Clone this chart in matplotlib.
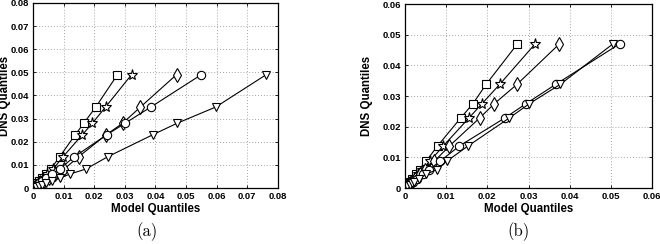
import matplotlib
matplotlib.use('Agg')
import matplotlib.pyplot as plt
import numpy as np

# (a) quantile data
ya = [0, 0.0005, 0.001, 0.0015, 0.002, 0.003, 0.0042, 0.006, 0.0082, 0.0135, 0.023, 0.028, 0.035, 0.049]
xa_square = [0, 0.00035, 0.0007, 0.001, 0.0014, 0.0021, 0.0029, 0.0041, 0.0058, 0.0087, 0.0138, 0.0166, 0.0205, 0.0276]
xa_star = [0, 0.0004, 0.0008, 0.0012, 0.0016, 0.0024, 0.0033, 0.0047, 0.0066, 0.0098, 0.0161, 0.0194, 0.0237, 0.0322]
xa_diamond = [0, 0.0006, 0.0012, 0.0018, 0.0025, 0.0037, 0.0051, 0.0073, 0.0102, 0.0149, 0.0239, 0.0293, 0.0351, 0.0469]
xa_circle = [0, 0.0005, 0.001, 0.0016, 0.0021, 0.0031, 0.0044, 0.0063, 0.0087, 0.0135, 0.0241, 0.0301, 0.0385, 0.0550]
xa_tri = [0, 0.001, 0.0021, 0.0031, 0.0042, 0.0062, 0.0087, 0.012, 0.0173, 0.0244, 0.0391, 0.0471, 0.0597, 0.0762]

# (b) quantile data
yb = [0, 0.0005, 0.001, 0.0015, 0.002, 0.003, 0.0045, 0.006, 0.0087, 0.0137, 0.0228, 0.0275, 0.0338, 0.047]
xb_square = [0, 0.0003, 0.0006, 0.0009, 0.0012, 0.0018, 0.0027, 0.0036, 0.0051, 0.0079, 0.0135, 0.0165, 0.0197, 0.0273]
xb_star = [0, 0.00035, 0.0007, 0.001, 0.0014, 0.0021, 0.0031, 0.0042, 0.006, 0.0093, 0.0155, 0.0187, 0.0230, 0.0316]
xb_diamond = [0, 0.0004, 0.0008, 0.0012, 0.0016, 0.0025, 0.0037, 0.0049, 0.0071, 0.0108, 0.0181, 0.0217, 0.0272, 0.0375]
xb_circle = [0, 0.0005, 0.001, 0.0015, 0.002, 0.0029, 0.0044, 0.0059, 0.0085, 0.0132, 0.0242, 0.0294, 0.0366, 0.0521]
xb_tri = [0, 0.0006, 0.0012, 0.0017, 0.0023, 0.0035, 0.0052, 0.0077, 0.0101, 0.0153, 0.0253, 0.0302, 0.0377, 0.0505]

ticks_a = [0, 0.01, 0.02, 0.03, 0.04, 0.05, 0.06, 0.07, 0.08]
ticks_b = [0, 0.01, 0.02, 0.03, 0.04, 0.05, 0.06]
tick_labels_a = ['0', '0.01', '0.02', '0.03', '0.04', '0.05', '0.06', '0.07', '0.08']
tick_labels_b = ['0', '0.01', '0.02', '0.03', '0.04', '0.05', '0.06']

markers = ['s', '*', 'd', 'o', 'v']
msizes = [5.5, 8, 7, 6, 6]

fig = plt.figure(figsize=(6.6, 2.44), dpi=100)
ax1 = fig.add_axes([0.050, 0.2295, 0.371, 0.7585])
ax2 = fig.add_axes([0.6136, 0.2295, 0.3744, 0.754])


def style(ax, ticks, labels, lim, ya_, xs):
    for x, m, ms in zip(xs, markers, msizes):
        ax.plot(x, ya_, color='k', lw=0.8, marker=m, ms=ms,
                mfc='white', mec='k', mew=0.8)
    ax.set_xlim(0, lim)
    ax.set_ylim(0, lim)
    ax.set_xticks(ticks)
    ax.set_yticks(ticks)
    ax.set_xticklabels(labels, fontsize=6.8, fontweight='bold', family='Liberation Sans')
    ax.set_yticklabels(labels, fontsize=6.8, fontweight='bold', family='Liberation Sans')
    ax.tick_params(direction='in', length=2.5, width=0.6, pad=3, top=True, right=True)
    ax.grid(True, ls=(0, (1, 2.5)), color='#888888', lw=0.6)
    for s in ax.spines.values():
        s.set_linewidth(0.9)
    ax.set_xlabel('Model Quantiles', fontsize=8.3, fontweight='bold',
                  family='Liberation Sans', labelpad=1)
    ax.set_ylabel('DNS Quantiles', fontsize=8.3, fontweight='bold',
                  family='Liberation Sans', labelpad=0)


style(ax1, ticks_a, tick_labels_a, 0.08, ya,
      [xa_square, xa_star, xa_diamond, xa_circle, xa_tri])
style(ax2, ticks_b, tick_labels_b, 0.06, yb,
      [xb_square, xb_star, xb_diamond, xb_circle, xb_tri])
ax1.yaxis.set_label_coords(-0.088, 0.5)
ax2.yaxis.set_label_coords(-0.128, 0.5)

fig.text(0.223, 0.05, '(a)', fontsize=12, family='cmr10', ha='center', va='center')
fig.text(0.785, 0.05, '(b)', fontsize=12, family='cmr10', ha='center', va='center')

fig.savefig('out.png', dpi=100)
